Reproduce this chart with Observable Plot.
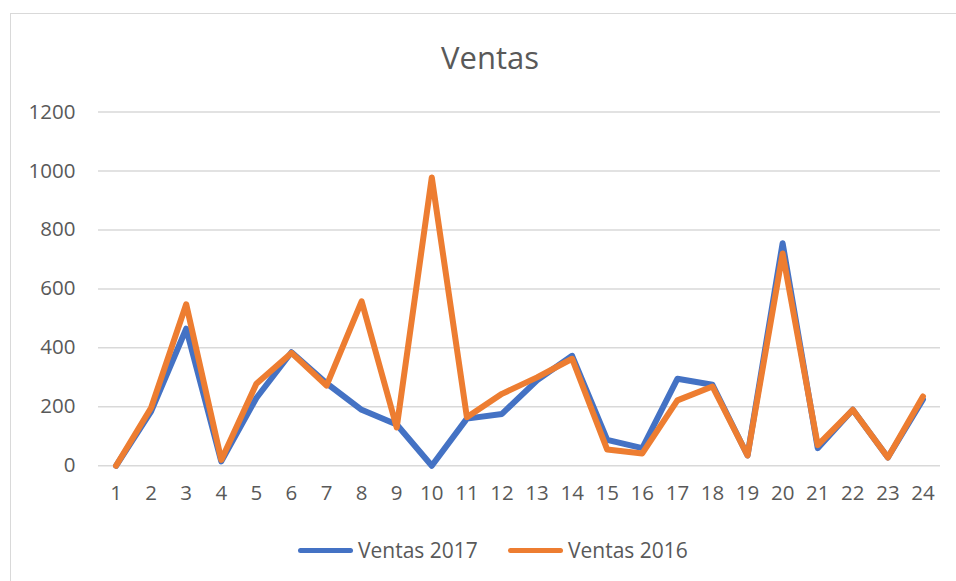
<!DOCTYPE html>
<html>
<head>
<meta charset="utf-8">
<script src="https://cdn.jsdelivr.net/npm/d3@7"></script>
<script src="https://cdn.jsdelivr.net/npm/@observablehq/plot@0.6"></script>
<style>
  html, body { margin: 0; padding: 0; background: #fff; }
  #wrap { position: relative; width: 956px; height: 581px; overflow: hidden; font-family: "Open Sans", sans-serif; color: #595959; }
  #frame { position: absolute; left: 10px; top: 13px; width: 1000px; height: 700px; border: 1.5px solid #d9d9d9; box-sizing: border-box; }
  #title { position: absolute; left: 0; width: 980px; top: 35px; text-align: center; font-size: 31px; line-height: 44px; color: #595959; }
  #chart { position: absolute; left: 0; top: 0; }
  #legend { position: absolute; top: 535px; left: 0; width: 956px; height: 30px; font-size: 21px; color: #595959; }
  .item { position: absolute; top: 0; display: flex; align-items: center; height: 30px; }
  .sw { width: 55px; height: 5px; border-radius: 3px; margin-right: 5px; }
</style>
</head>
<body>
<div id="wrap">
  <div id="frame"></div>
  <div id="chart"></div>
  <div id="title">Ventas</div>
  <div id="legend"></div>
</div>
<script>
const categories = [1,2,3,4,5,6,7,8,9,10,11,12,13,14,15,16,17,18,19,20,21,22,23,24];
const ventas2017 = [0,185,465,15,230,385,280,190,140,0,160,176,290,373,88,60,295,275,35,755,60,190,28,225];
const ventas2016 = [0,197,548,20,278,383,272,558,130,978,165,244,300,363,55,42,222,269,35,720,70,190,28,235];
const yTicks = [0,200,400,600,800,1000,1200];
const seriesNames = ["Ventas 2017", "Ventas 2016"];
const seriesColors = ["#4472C4", "#ED7D31"];

const rows = [];
categories.forEach((c, i) => {
  rows.push({x: c, y: ventas2017[i], s: seriesNames[0]});
  rows.push({x: c, y: ventas2016[i], s: seriesNames[1]});
});

const chart = Plot.plot({
  width: 956,
  height: 581,
  marginLeft: 98,
  marginRight: 16,
  marginTop: 111.5,
  marginBottom: 115.7,
  style: {fontFamily: "'Open Sans', sans-serif", fontSize: "20.5px", color: "#595959", background: "transparent"},
  x: {type: "linear", domain: [0.5, 24.5]},
  y: {domain: [0, 1200]},
  color: {domain: seriesNames, range: seriesColors},
  marks: [
    Plot.gridY(yTicks, {stroke: "#d9d9d9", strokeOpacity: 1, strokeWidth: 1.5}),
    Plot.axisY(yTicks, {tickSize: 0, tickPadding: 23, label: null, fill: "#595959", fontSize: 20.5, tickFormat: d => String(d)}),
    Plot.axisX(categories, {tickSize: 0, tickPadding: 20, label: null, fill: "#595959", fontSize: 20.5, tickFormat: d => String(d)}),
    Plot.line(rows, {x: "x", y: "y", z: "s", stroke: "s", strokeWidth: 6, strokeLinejoin: "round", strokeLinecap: "round"})
  ]
});
document.getElementById("chart").appendChild(chart);

const legend = document.getElementById("legend");
const lefts = [298, 508];
seriesNames.forEach((n, i) => {
  const it = document.createElement("div");
  it.className = "item";
  it.style.left = lefts[i] + "px";
  const sw = document.createElement("div");
  sw.className = "sw";
  sw.style.background = seriesColors[i];
  const t = document.createElement("span");
  t.textContent = n;
  it.appendChild(sw);
  it.appendChild(t);
  legend.appendChild(it);
});
</script>
</body>
</html>
